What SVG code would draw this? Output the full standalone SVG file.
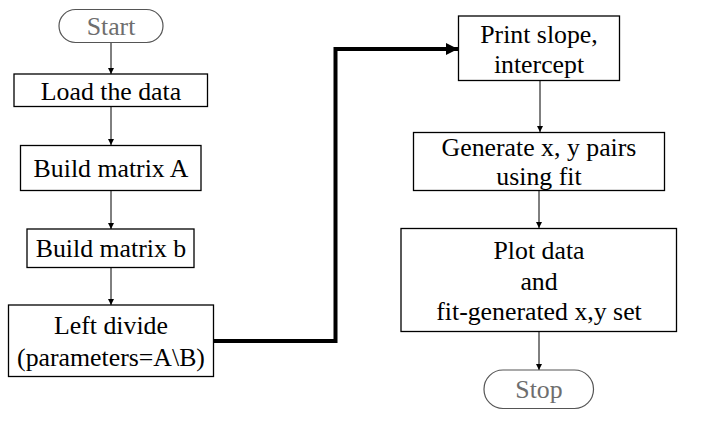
<svg xmlns="http://www.w3.org/2000/svg" width="702" height="427" viewBox="0 0 702 427">
<defs>
<marker id="ah" viewBox="0 0 10 10" refX="10" refY="5" markerWidth="6" markerHeight="6" markerUnits="userSpaceOnUse" orient="auto"><path d="M0,0 L10,5 L0,10 z" fill="#000"/></marker>
<marker id="ahb" viewBox="0 0 10 10" refX="10" refY="5" markerWidth="3" markerHeight="3" orient="auto"><path d="M0,0 L10,5 L0,10 z" fill="#000"/></marker>
</defs>
<style>
.box{fill:#fff;stroke:#000;stroke-width:1.3}
.term{fill:#fff;stroke:#555;stroke-width:1.2}
text{font-family:'Liberation Serif','Times New Roman',serif;font-size:25.8px;fill:#000;text-anchor:middle}
.g{fill:#6e6e6e}
.c{fill:none;stroke:#000;stroke-width:1}
.ct{fill:none;stroke:#000;stroke-width:4}
</style>
<rect width="702" height="427" fill="#fff"/>
<g id="connectors">
<line class="c" x1="111" y1="42" x2="111" y2="74" marker-end="url(#ah)"/>
<line class="c" x1="111" y1="107" x2="111" y2="145" marker-end="url(#ah)"/>
<line class="c" x1="111" y1="190" x2="111" y2="229" marker-end="url(#ah)"/>
<line class="c" x1="111" y1="267" x2="111" y2="305" marker-end="url(#ah)"/>
<polyline class="ct" points="213,341 335.5,341 335.5,49 458,49" marker-end="url(#ahb)"/>
<line class="c" x1="540" y1="80" x2="540" y2="132" marker-end="url(#ah)"/>
<line class="c" x1="539" y1="191" x2="539" y2="228" marker-end="url(#ah)"/>
<line class="c" x1="539" y1="331" x2="539" y2="370" marker-end="url(#ah)"/>
</g>
<g id="start">
<rect class="term" x="59" y="9.5" width="104" height="33" rx="16.5"/>
<text class="g" x="111" y="35">Start</text>
</g>
<g id="load">
<rect class="box" x="14" y="74" width="193.5" height="32.5"/>
<text x="111" y="100">Load the data</text>
</g>
<g id="buildA">
<rect class="box" x="20.5" y="145.5" width="180.5" height="45"/>
<text x="111" y="176.5">Build matrix A</text>
</g>
<g id="buildB">
<rect class="box" x="27" y="229" width="167" height="38.5"/>
<text x="111" y="256.5">Build matrix b</text>
</g>
<g id="leftdivide">
<rect class="box" x="8.5" y="305" width="205" height="71.5"/>
<text x="111" y="334">Left divide</text>
<text x="111" y="366">(parameters=A\B)</text>
</g>
<g id="print">
<rect class="box" x="458.5" y="16" width="161" height="64.5"/>
<text x="539" y="43">Print slope,</text>
<text x="539" y="73">intercept</text>
</g>
<g id="generate">
<rect class="box" x="413.5" y="132.5" width="251" height="58"/>
<text x="539" y="156">Generate x, y pairs</text>
<text x="539" y="185">using fit</text>
</g>
<g id="plot">
<rect class="box" x="401" y="228.5" width="275.5" height="103"/>
<text x="539" y="258.5">Plot data</text>
<text x="539" y="290">and</text>
<text x="539" y="319.5">fit-generated x,y set</text>
</g>
<g id="stop">
<rect class="term" x="484" y="370" width="109.5" height="38.5" rx="19"/>
<text class="g" x="539" y="398">Stop</text>
</g>
</svg>
